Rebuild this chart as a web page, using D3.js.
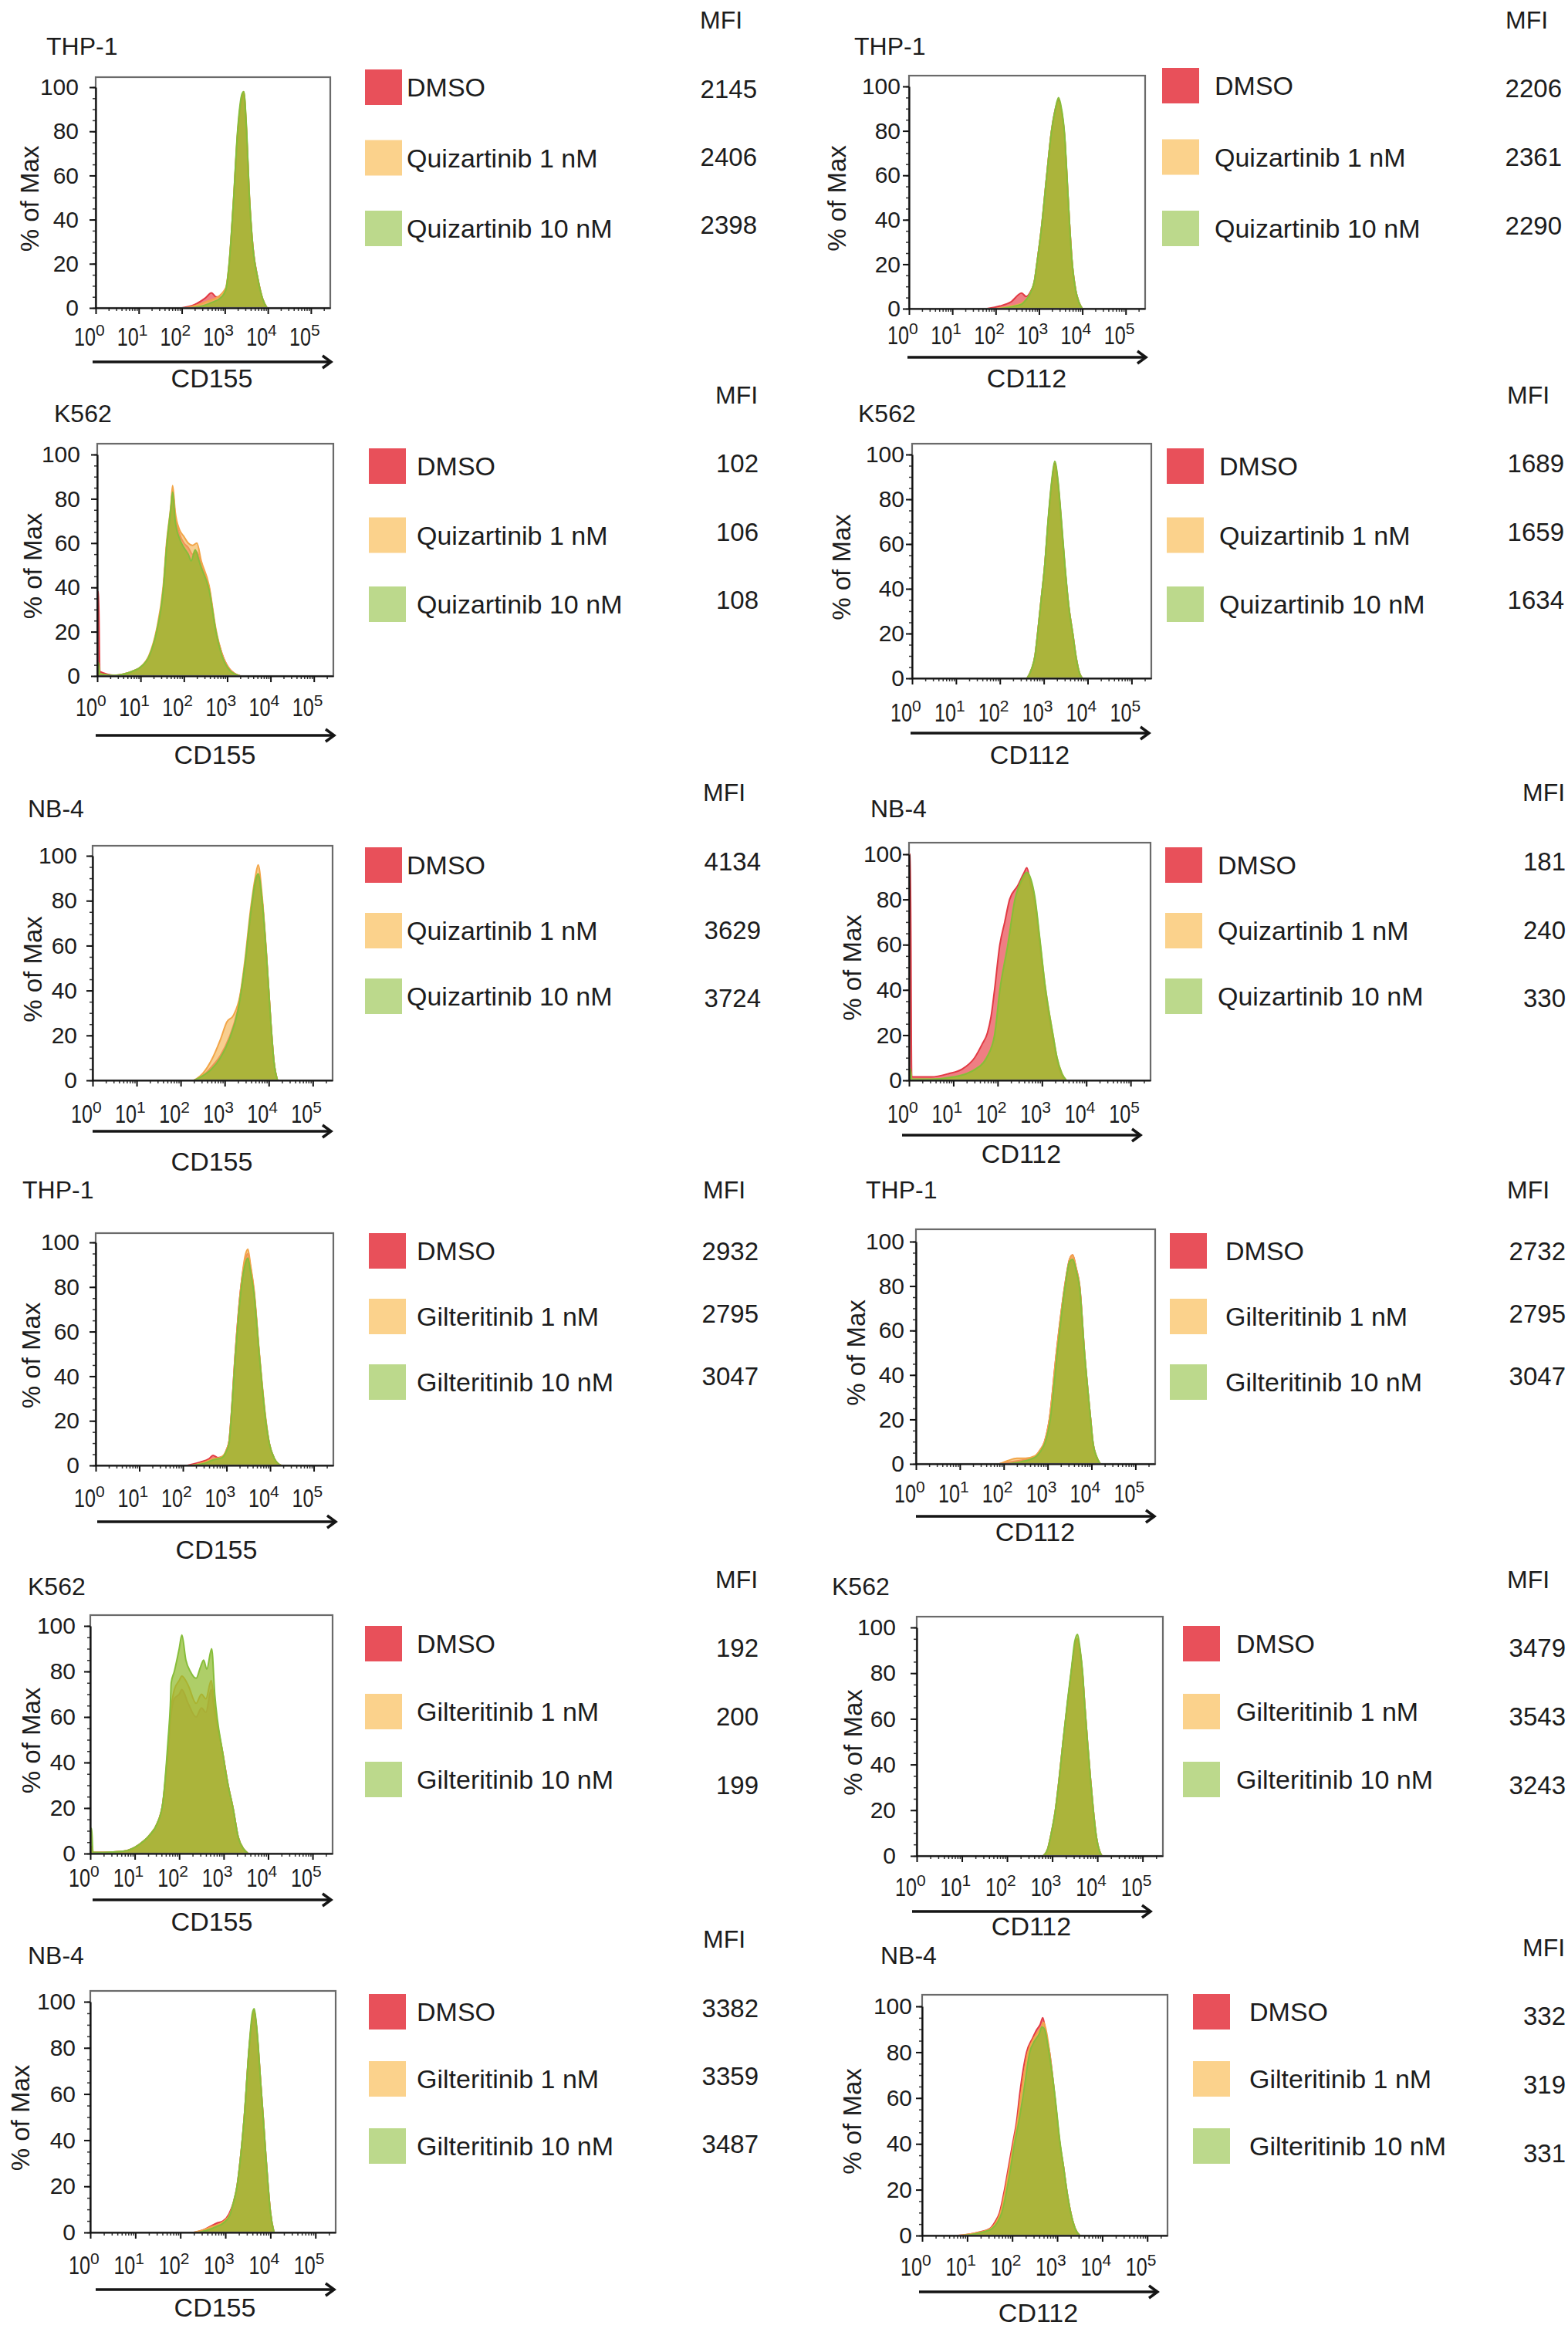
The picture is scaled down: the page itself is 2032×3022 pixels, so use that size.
<!DOCTYPE html>
<html>
<head>
<meta charset="utf-8">
<title>CD155 / CD112 histograms</title>
<script src="https://cdn.jsdelivr.net/npm/d3@7"></script>
<style>
  body { margin: 0; background: #fff; }
  svg text { font-family: "Liberation Sans", Arial, Helvetica, sans-serif; fill: #1c1c1c; }
</style>
</head>
<body>
<svg id="chart" width="2032" height="3022"></svg>
<script>
// ---- values ----
const cellLines = ["THP-1", "THP-1", "K562", "K562", "NB-4", "NB-4",
                   "THP-1", "THP-1", "K562", "K562", "NB-4", "NB-4"];
const markers = ["CD155", "CD112", "CD155", "CD112", "CD155", "CD112",
                 "CD155", "CD112", "CD155", "CD112", "CD155", "CD112"];
const quizLabels = ["DMSO", "Quizartinib 1 nM", "Quizartinib 10 nM"];
const giltLabels = ["DMSO", "Gilteritinib 1 nM", "Gilteritinib 10 nM"];
const mfi = [
  [2145, 2406, 2398], [2206, 2361, 2290],
  [102, 106, 108],    [1689, 1659, 1634],
  [4134, 3629, 3724], [181, 240, 330],
  [2932, 2795, 3047], [2732, 2795, 3047],
  [192, 200, 199],    [3479, 3543, 3243],
  [3382, 3359, 3487], [332, 319, 331]
];
const yTicks = [0, 20, 40, 60, 80, 100];
const decades = [0, 1, 2, 3, 4, 5];

// histograms: [log10 intensity, % of max] for DMSO, 1 nM, 10 nM
const thp1Cd155Quiz = [
  [[2.0,0],[2.3,1.5],[2.55,4.5],[2.69,6.8],[2.8,5],[2.9,5],[3.02,8],[3.1,19],[3.2,47],[3.3,79],[3.4,95],[3.44,97],[3.5,81],[3.57,50],[3.65,28],[3.77,13],[3.88,4],[3.98,0]],
  [[2.1,0],[2.4,1.5],[2.6,3],[2.8,4.5],[3.02,9],[3.1,20],[3.2,48],[3.3,80],[3.4,96],[3.44,98],[3.5,82],[3.57,51],[3.65,28],[3.77,13],[3.88,4],[3.98,0]],
  [[2.2,0],[2.5,1],[2.7,2.5],[2.9,4.5],[3.02,8],[3.1,20],[3.2,48],[3.3,81],[3.4,97],[3.44,98],[3.5,83],[3.57,51],[3.65,28],[3.77,13],[3.88,4],[3.98,0]]
];
const thp1Cd112Quiz = [
  [[1.8,0],[2.1,1.2],[2.35,3],[2.6,7],[2.7,5.5],[2.8,7.5],[2.9,13],[2.95,20],[3.05,35],[3.18,60],[3.29,80],[3.38,90],[3.45,94],[3.5,91],[3.6,75],[3.64,61],[3.7,40],[3.76,22],[3.85,8],[3.92,3],[4.0,0]],
  [[2.0,0],[2.3,1],[2.6,2.5],[2.7,4],[2.8,7],[2.9,13],[2.95,20],[3.05,35],[3.18,60],[3.29,80],[3.38,89],[3.45,93],[3.5,90],[3.6,75],[3.64,61],[3.7,40],[3.76,22],[3.85,8],[3.92,3],[4.0,0]],
  [[2.1,0],[2.4,1],[2.6,2],[2.7,4],[2.8,7],[2.9,13],[2.95,20],[3.05,35],[3.18,60],[3.29,80],[3.38,90],[3.45,95],[3.5,92],[3.6,76],[3.64,62],[3.7,40],[3.76,22],[3.85,8],[3.92,3],[4.0,0]]
];
const k562Cd155Quiz = [
  [[0,38],[0.03,38],[0.06,2],[0.4,0.3],[0.8,2],[1.0,4],[1.2,9],[1.37,20],[1.53,40],[1.6,58],[1.7,75],[1.74,84],[1.8,72],[1.9,64],[2.0,60],[2.1,58],[2.2,55],[2.3,56],[2.4,50],[2.58,40],[2.74,20],[2.88,10],[3.06,3],[3.3,0]],
  [[0,6],[0.03,6],[0.06,1],[0.4,0.3],[0.8,2],[1.0,4],[1.2,9.5],[1.37,21],[1.53,42],[1.6,60],[1.7,77],[1.74,86],[1.8,74],[1.9,66],[2.0,63],[2.1,60],[2.2,59],[2.3,60],[2.4,52],[2.58,41],[2.74,21],[2.88,10],[3.06,3],[3.3,0]],
  [[0,6],[0.03,6],[0.06,1],[0.4,0.3],[0.8,2],[1.0,4],[1.2,9],[1.37,20],[1.53,40],[1.6,58],[1.7,76],[1.74,83],[1.8,70],[1.9,62],[2.0,58],[2.1,55],[2.17,52],[2.26,57],[2.35,52],[2.4,49],[2.58,39],[2.74,20],[2.88,9],[3.06,2.5],[3.3,0]]
];
const k562Cd112Quiz = [
  [[2.62,0],[2.72,4],[2.8,10],[2.86,20],[2.94,35],[3.02,50],[3.1,70],[3.18,87],[3.25,96],[3.32,88],[3.4,70],[3.48,50],[3.57,32],[3.66,20],[3.74,9],[3.82,2],[3.88,0]],
  [[2.62,0],[2.72,4],[2.8,10],[2.86,20],[2.94,35],[3.02,50],[3.1,70],[3.18,86],[3.25,95],[3.32,87],[3.4,69],[3.48,50],[3.57,32],[3.66,20],[3.74,9],[3.82,2],[3.88,0]],
  [[2.62,0],[2.72,4],[2.8,10],[2.86,20],[2.94,35],[3.02,50],[3.1,71],[3.18,88],[3.25,97],[3.32,89],[3.4,71],[3.48,51],[3.57,32],[3.66,20],[3.74,9],[3.82,2],[3.88,0]]
];
const nb4Cd155Quiz = [
  [[2.3,0],[2.5,2],[2.7,6],[2.9,11],[3.1,19],[3.3,32],[3.45,50],[3.6,75],[3.7,88],[3.76,91],[3.85,80],[3.95,55],[4.05,25],[4.12,8],[4.2,0]],
  [[2.3,0],[2.5,3],[2.7,9],[2.9,18],[3.05,26],[3.2,29],[3.35,38],[3.45,52],[3.6,78],[3.7,91],[3.76,96],[3.85,82],[3.95,56],[4.05,25],[4.12,8],[4.2,0]],
  [[2.3,0],[2.5,2],[2.7,5],[2.9,10],[3.1,18],[3.3,31],[3.45,50],[3.6,76],[3.7,89],[3.76,92],[3.85,80],[3.95,55],[4.05,25],[4.12,8],[4.2,0]]
];
const nb4Cd112Quiz = [
  [[0,100],[0.03,100],[0.06,1.5],[0.5,1.5],[0.9,3],[1.2,5],[1.48,10],[1.65,16],[1.77,21],[1.85,28],[1.93,40],[2.05,60],[2.16,70],[2.27,80],[2.45,86],[2.6,92],[2.66,94],[2.75,86],[2.84,78],[2.95,60],[3.07,40],[3.25,18],[3.34,9],[3.45,2],[3.55,0]],
  [[0,5],[0.03,5],[0.06,0.5],[0.5,0.5],[1.0,1.5],[1.3,3],[1.5,5],[1.75,10],[1.93,20],[2.05,40],[2.23,60],[2.39,80],[2.55,88],[2.66,91],[2.75,88],[2.84,80],[2.95,62],[3.07,42],[3.25,20],[3.34,10],[3.45,3],[3.55,0]],
  [[0,5],[0.03,5],[0.06,0.5],[0.5,0.5],[1.0,1.5],[1.3,3],[1.5,5],[1.75,10],[1.93,20],[2.05,40],[2.23,60],[2.39,80],[2.55,89],[2.66,92],[2.75,89],[2.84,81],[2.95,63],[3.07,42],[3.25,20],[3.34,10],[3.45,3],[3.55,0]]
];
const thp1Cd155Gilt = [
  [[2.1,0],[2.4,1.5],[2.6,3],[2.69,4.5],[2.8,3.5],[2.92,4],[3.0,7],[3.06,11],[3.1,20],[3.2,50],[3.33,80],[3.44,93],[3.49,95],[3.55,89],[3.63,78],[3.75,50],[3.9,20],[3.98,10],[4.1,3],[4.25,0]],
  [[2.2,0],[2.5,1.5],[2.7,3],[2.85,3.5],[2.95,5],[3.02,8],[3.06,11],[3.1,20],[3.2,50],[3.33,80],[3.44,95],[3.49,97],[3.55,90],[3.63,79],[3.75,51],[3.9,21],[3.98,10],[4.1,3],[4.25,0]],
  [[2.2,0],[2.5,1],[2.7,2.5],[2.9,3.5],[3.0,6.5],[3.06,10],[3.1,19],[3.2,48],[3.33,78],[3.44,91],[3.49,93],[3.55,87],[3.63,77],[3.75,50],[3.9,20],[3.98,10],[4.1,3],[4.25,0]]
];
const thp1Cd112Gilt = [
  [[1.9,0],[2.2,1],[2.5,2],[2.7,3],[2.82,6],[2.93,10],[3.04,20],[3.2,50],[3.39,80],[3.5,92],[3.57,94],[3.65,88],[3.73,80],[3.84,50],[3.98,20],[4.03,10],[4.12,3],[4.2,0]],
  [[1.9,0],[2.1,1.5],[2.3,2.5],[2.5,2.5],[2.7,3.5],[2.82,6],[2.93,10],[3.04,20],[3.2,50],[3.39,80],[3.5,92],[3.57,94],[3.65,88],[3.73,80],[3.84,50],[3.98,20],[4.03,10],[4.12,3],[4.2,0]],
  [[2.1,0],[2.4,1],[2.6,2],[2.75,3.5],[2.85,6],[2.95,10],[3.06,20],[3.22,50],[3.4,80],[3.5,91],[3.57,92],[3.65,87],[3.73,79],[3.84,50],[3.98,20],[4.03,10],[4.12,3],[4.2,0]]
];
const k562Cd155Gilt = [
  [[0,3],[0.03,3],[0.06,0.5],[0.3,0.5],[0.74,1],[1.1,4],[1.33,8],[1.5,13],[1.63,22],[1.75,45],[1.8,58],[1.89,68],[2.0,70],[2.06,72],[2.2,66],[2.38,60],[2.5,64],[2.6,62],[2.72,72],[2.8,62],[2.98,44],[3.1,30],[3.21,20],[3.33,7],[3.45,2],[3.55,0]],
  [[0,3],[0.03,3],[0.06,0.5],[0.3,0.5],[0.74,1],[1.1,4],[1.33,8],[1.5,13],[1.63,22],[1.75,47],[1.8,60],[1.89,72],[2.0,76],[2.06,78],[2.2,74],[2.38,66],[2.5,70],[2.6,68],[2.72,76],[2.8,64],[2.98,44],[3.1,30],[3.21,20],[3.33,7],[3.45,2],[3.55,0]],
  [[0,11],[0.03,11],[0.06,0.5],[0.3,0.5],[0.74,1],[1.1,4],[1.33,8],[1.5,13],[1.63,22],[1.75,50],[1.8,65],[1.82,75],[1.89,80],[2.0,90],[2.06,96],[2.15,85],[2.25,80],[2.38,77],[2.48,82],[2.55,85],[2.62,81],[2.73,90],[2.8,70],[2.98,44],[3.1,30],[3.21,20],[3.33,7],[3.45,2],[3.55,0]]
];
const k562Cd112Gilt = [
  [[2.8,0],[2.9,3],[2.97,9],[3.07,20],[3.15,33],[3.24,50],[3.34,67],[3.42,80],[3.5,92],[3.56,95],[3.62,89],[3.67,80],[3.72,66],[3.78,50],[3.85,33],[3.91,20],[3.98,8],[4.05,2],[4.1,0]],
  [[2.8,0],[2.9,3],[2.97,9],[3.07,20],[3.15,33],[3.24,50],[3.34,67],[3.42,80],[3.5,92],[3.56,95],[3.62,89],[3.67,80],[3.72,66],[3.78,50],[3.85,33],[3.91,20],[3.98,8],[4.05,2],[4.1,0]],
  [[2.8,0],[2.9,3],[2.97,9],[3.07,20],[3.15,33],[3.24,50],[3.34,68],[3.42,81],[3.5,94],[3.56,97],[3.62,90],[3.67,81],[3.72,66],[3.78,50],[3.85,33],[3.91,20],[3.98,8],[4.05,2],[4.1,0]]
];
const nb4Cd155Gilt = [
  [[2.3,0],[2.5,1],[2.7,3],[2.8,4],[2.95,5],[3.08,8],[3.18,13],[3.26,20],[3.34,33],[3.42,50],[3.53,80],[3.6,93],[3.64,96],[3.68,91],[3.73,80],[3.78,66],[3.84,50],[3.9,33],[3.95,20],[4.0,9],[4.08,0]],
  [[2.3,0],[2.5,1],[2.7,2.5],[2.85,3.5],[2.98,5],[3.1,8],[3.18,13],[3.26,20],[3.34,33],[3.42,50],[3.53,80],[3.6,93],[3.64,96],[3.68,91],[3.73,80],[3.78,66],[3.84,50],[3.9,33],[3.95,20],[4.0,9],[4.08,0]],
  [[2.4,0],[2.6,1],[2.8,2.5],[2.95,4],[3.1,7.5],[3.18,13],[3.26,20],[3.34,33],[3.42,50],[3.53,81],[3.6,95],[3.64,97],[3.68,92],[3.73,81],[3.78,66],[3.84,50],[3.9,33],[3.95,20],[4.0,9],[4.08,0]]
];
const nb4Cd112Gilt = [
  [[0.8,0],[1.1,0.8],[1.27,1.5],[1.5,3],[1.62,6],[1.72,10],[1.83,20],[1.92,30],[2.01,40],[2.1,50],[2.17,62],[2.32,80],[2.45,86],[2.55,90],[2.62,92],[2.68,95],[2.75,88],[2.83,80],[2.95,60],[3.06,40],[3.14,30],[3.21,20],[3.3,10],[3.4,3],[3.5,0]],
  [[0.8,0],[1.1,0.8],[1.3,1.5],[1.52,3],[1.65,6],[1.74,10],[1.85,20],[1.94,30],[2.03,40],[2.12,50],[2.2,62],[2.35,80],[2.48,86],[2.58,89],[2.65,91],[2.7,93],[2.77,88],[2.83,80],[2.95,60],[3.06,40],[3.14,30],[3.21,20],[3.3,10],[3.4,3],[3.5,0]],
  [[0.9,0],[1.2,0.8],[1.35,1.5],[1.55,3],[1.68,6],[1.77,10],[1.88,20],[1.97,30],[2.05,40],[2.15,50],[2.25,62],[2.39,80],[2.5,85],[2.6,88],[2.66,91],[2.72,90],[2.8,82],[2.95,61],[3.06,41],[3.14,30],[3.21,20],[3.3,10],[3.4,3],[3.5,0]]
];

const histograms = [thp1Cd155Quiz, thp1Cd112Quiz, k562Cd155Quiz, k562Cd112Quiz,
                    nb4Cd155Quiz, nb4Cd112Quiz, thp1Cd155Gilt, thp1Cd112Gilt,
                    k562Cd155Gilt, k562Cd112Gilt, nb4Cd155Gilt, nb4Cd112Gilt];

// ---- panel placement (pixels) ----
const layout = [
  {l:124, r:428, t:100, b:399, y100:113, yp:22, tx:60, ty:71, mx:907, my:37, sx:473, sy:90, ss:91.5, lx:527, vr:981, vy:127, vs:88, ky:448, ay:469, ax:120, cy:502, px:38},
  {l:1178, r:1484, t:98, b:400, y100:112, yp:11, tx:1107, ty:71, mx:1951, my:37, sx:1506, sy:88, ss:92.5, lx:1574, vr:2024, vy:126, vs:89, ky:446, ay:463, ax:1176, cy:502, px:1084},
  {l:126, r:432, t:575, b:876, y100:589, yp:22, tx:70, ty:547, mx:927, my:523, sx:478, sy:581, ss:89.5, lx:540, vr:983, vy:612, vs:88.5, ky:928, ay:953, ax:124, cy:990, px:42},
  {l:1182, r:1492, t:575, b:879, y100:589, yp:10, tx:1112, ty:547, mx:1953, my:523, sx:1512, sy:581, ss:89.5, lx:1580, vr:2027, vy:612, vs:88.5, ky:935, ay:950, ax:1180, cy:990, px:1090},
  {l:120, r:431, t:1096, b:1400, y100:1109, yp:20, tx:36, ty:1059, mx:911, my:1038, sx:473, sy:1098, ss:85, lx:527, vr:986, vy:1128, vs:88.5, ky:1455, ay:1466, ax:120, cy:1517, px:42},
  {l:1178, r:1491, t:1092, b:1400, y100:1107, yp:9, tx:1128, ty:1059, mx:1973, my:1038, sx:1510, sy:1098, ss:85, lx:1578, vr:2029, vy:1128, vs:88.5, ky:1455, ay:1471, ax:1169, cy:1507, px:1104},
  {l:124, r:432, t:1598, b:1899, y100:1610, yp:21, tx:29, ty:1553, mx:911, my:1553, sx:478, sy:1598, ss:85, lx:540, vr:983, vy:1633, vs:81, ky:1953, ay:1972, ax:126, cy:2020, px:40},
  {l:1187, r:1497, t:1593, b:1897, y100:1609, yp:15, tx:1122, ty:1553, mx:1953, my:1553, sx:1516, sy:1598, ss:85, lx:1588, vr:2029, vy:1633, vs:81, ky:1947, ay:1965, ax:1187, cy:1997, px:1109},
  {l:117, r:431, t:2093, b:2402, y100:2107, yp:19, tx:36, ty:2067, mx:927, my:2058, sx:473, sy:2107, ss:88, lx:540, vr:983, vy:2147, vs:89, ky:2445, ay:2462, ax:120, cy:2502, px:40},
  {l:1188, r:1507, t:2095, b:2405, y100:2109, yp:27, tx:1078, ty:2067, mx:1953, my:2058, sx:1533, sy:2107, ss:88, lx:1602, vr:2029, vy:2147, vs:89, ky:2457, ay:2477, ax:1182, cy:2508, px:1105},
  {l:117, r:435, t:2580, b:2893, y100:2594, yp:19, tx:36, ty:2545, mx:911, my:2524, sx:478, sy:2584, ss:87, lx:540, vr:983, vy:2614, vs:88, ky:2947, ay:2967, ax:124, cy:3002, px:26},
  {l:1195, r:1513, t:2585, b:2897, y100:2600, yp:13, tx:1141, ty:2545, mx:1973, my:2535, sx:1546, sy:2584, ss:87, lx:1619, vr:2029, vy:2624, vs:89, ky:2949, ay:2970, ax:1191, cy:3009, px:1104}
];

const histFill = ["#e8474f", "#f5b95f", "#8cb928"];
const histLine = ["#e23a44", "#f2a548", "#86bd3a"];
const swatchFill = ["#e8505a", "#fbd28c", "#bcd98c"];
const xMax = Math.pow(10, 5.45);

const svg = d3.select("#chart");
svg.append("rect").attr("width", 2032).attr("height", 3022).attr("fill", "#fff");
const defs = svg.append("defs");

layout.forEach((p, i) => {
  const g = svg.append("g");
  const x = d3.scaleLog().domain([1, xMax]).range([p.l, p.r]);
  const y = d3.scaleLinear().domain([0, 100]).range([p.b, p.y100]);

  defs.append("clipPath").attr("id", "clip" + i)
    .append("rect").attr("x", p.l).attr("y", p.t)
    .attr("width", p.r - p.l).attr("height", p.b - p.t);

  // histograms, DMSO first so the treated samples sit on top
  const area = d3.area()
    .x(d => x(Math.pow(10, d[0])))
    .y0(p.b)
    .y1(d => y(d[1]))
    .curve(d3.curveMonotoneX);
  const line = d3.line()
    .x(d => x(Math.pow(10, d[0])))
    .y(d => y(d[1]))
    .curve(d3.curveMonotoneX);
  const hg = g.append("g").attr("clip-path", `url(#clip${i})`);
  histograms[i].forEach((s, j) => {
    hg.append("path").attr("d", area(s))
      .attr("fill", histFill[j]).attr("fill-opacity", 0.7);
    hg.append("path").attr("d", line(s))
      .attr("fill", "none").attr("stroke", histLine[j]).attr("stroke-width", 2);
  });

  // frame
  g.append("rect").attr("x", p.l).attr("y", p.t)
    .attr("width", p.r - p.l).attr("height", p.b - p.t)
    .attr("fill", "none").attr("stroke", "#6a6a6a").attr("stroke-width", 2.2);

  // y axis
  g.append("g").attr("transform", `translate(${p.l},0)`)
    .call(d3.axisLeft(y).tickValues(d3.range(0, 101, 5)).tickSize(4).tickSizeOuter(0).tickFormat(""))
    .call(a => a.select(".domain").remove())
    .call(a => a.selectAll("line").attr("stroke", "#333").attr("stroke-width", 1.5));
  const ya = g.append("g").attr("transform", `translate(${p.l},0)`)
    .call(d3.axisLeft(y).tickValues(yTicks).tickSize(8).tickSizeOuter(0).tickPadding(p.yp - 8))
    .attr("font-size", 30).attr("font-family", null);
  ya.select(".domain").attr("stroke", "#111").attr("stroke-width", 2.2);
  ya.selectAll("line").attr("stroke", "#111").attr("stroke-width", 2);
  ya.selectAll("text").attr("fill", "#1c1c1c");

  // x axis (log), minor then major ticks
  const minor = [];
  decades.forEach(e => d3.range(2, 10).forEach(k => {
    const v = k * Math.pow(10, e);
    if (v < xMax) minor.push(v);
  }));
  g.append("g").attr("transform", `translate(0,${p.b})`)
    .call(d3.axisBottom(x).tickValues(minor).tickSize(4).tickSizeOuter(0).tickFormat(""))
    .call(a => a.select(".domain").remove())
    .call(a => a.selectAll("line").attr("stroke", "#333").attr("stroke-width", 1.5));
  const xa = g.append("g").attr("transform", `translate(0,${p.b})`)
    .call(d3.axisBottom(x).tickValues(decades.map(e => Math.pow(10, e))).tickSize(8).tickSizeOuter(0).tickFormat(""));
  xa.select(".domain").attr("stroke", "#111").attr("stroke-width", 2.2);
  xa.selectAll("line").attr("stroke", "#111").attr("stroke-width", 2);

  decades.forEach(e => {
    const lab = g.append("g").attr("transform", `translate(${x(Math.pow(10, e))},${p.ky})`);
    lab.append("text").attr("text-anchor", "end").attr("font-size", 34)
      .attr("transform", "scale(0.74,1)").text("10");
    lab.append("text").attr("x", 0).attr("y", -13).attr("font-size", 21).text(e);
  });

  // axis arrow and marker name
  const aLen = 309;
  g.append("line").attr("x1", p.ax).attr("x2", p.ax + aLen - 2)
    .attr("y1", p.ay).attr("y2", p.ay)
    .attr("stroke", "#151515").attr("stroke-width", 3.5);
  g.append("path")
    .attr("d", `M${p.ax + aLen - 11},${p.ay - 8}L${p.ax + aLen},${p.ay}L${p.ax + aLen - 11},${p.ay + 8}`)
    .attr("fill", "none").attr("stroke", "#151515").attr("stroke-width", 3.5);
  g.append("text").attr("x", p.ax + aLen / 2).attr("y", p.cy)
    .attr("text-anchor", "middle").attr("font-size", 34).text(markers[i]);

  // y title
  g.append("text")
    .attr("transform", `translate(${p.px},${(p.t + p.b) / 2 + 8}) rotate(-90)`)
    .attr("text-anchor", "middle").attr("dy", "0.35em").attr("font-size", 33)
    .text("% of Max");

  // cell line
  g.append("text").attr("x", p.tx).attr("y", p.ty).attr("font-size", 32).text(cellLines[i]);

  // legend with MFI column
  const labels = i < 6 ? quizLabels : giltLabels;
  g.append("text").attr("x", p.mx).attr("y", p.my).attr("font-size", 32).text("MFI");
  labels.forEach((t, j) => {
    const sy = p.sy + j * p.ss;
    g.append("rect").attr("x", p.sx).attr("y", sy).attr("width", 48).attr("height", 46)
      .attr("fill", swatchFill[j]);
    g.append("text").attr("x", p.lx).attr("y", sy + 35).attr("font-size", 34).text(t);
    g.append("text").attr("x", p.vr).attr("y", p.vy + j * p.vs)
      .attr("text-anchor", "end").attr("font-size", 33).text(mfi[i][j]);
  });
});
</script>
</body>
</html>
